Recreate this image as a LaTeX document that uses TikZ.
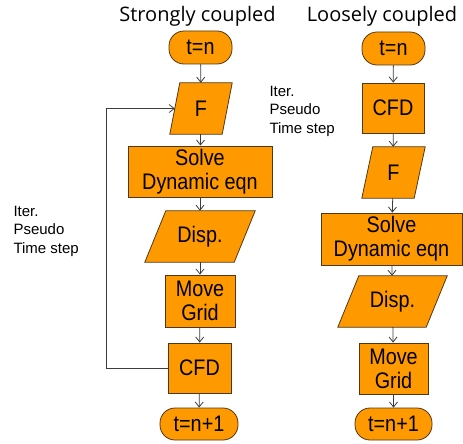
\documentclass[tikz,border=0pt]{standalone}
\usepackage{fontspec}
\setmainfont{Liberation Sans}
\newfontfamily\boxfont[FakeStretch=0.88]{Liberation Sans}
\newfontfamily\titlefont{Open Sans}
\usetikzlibrary{arrows.meta,backgrounds}
\definecolor{boxfill}{RGB}{255,153,0}
\definecolor{boxline}{RGB}{80,55,25}
\definecolor{arrline}{RGB}{60,60,60}
\begin{document}
\begin{tikzpicture}[x=1pt,y=-1pt,
  box/.style={draw=boxline,fill=boxfill,line width=0.8pt},
  rectbox/.style={box,inner sep=0pt,align=center,font=\boxfont\fontsize{22.5}{24}\selectfont},
  term/.style={rectbox,rounded corners=15pt},
  parabox/.style={inner sep=0pt,align=center,font=\boxfont\fontsize{22.5}{24}\selectfont},
  arr/.style={draw=arrline,line width=0.8pt,-{Straight Barb[length=5pt,width=8pt]}},
  side/.style={align=left,anchor=west,font=\fontsize{15}{18.5}\selectfont},
  ttl/.style={font=\titlefont\fontsize{20}{24}\selectfont}]
\useasboundingbox (0,0) rectangle (463,444);
% titles
\node[ttl] (t1) at (197.5,16) {Strongly coupled};
\node[ttl] (t2) at (382,16) {Loosely coupled};
% left column
\node[term,minimum width=63,minimum height=33] (tn1) at (200.5,47.5) {t=n};
\node[parabox,minimum width=62,minimum height=51] (f1) at (201,108.5) {F};
\node[rectbox,minimum width=144,minimum height=51] (s1) at (200,171.5) {Solve\\Dynamic eqn};
\node[parabox,minimum width=110,minimum height=51] (d1) at (200,236.5) {Disp.};
\node[rectbox,minimum width=70,minimum height=52] (m1) at (200,301) {Move\\Grid};
\node[rectbox,minimum width=63,minimum height=50] (c1) at (199.5,368) {CFD};
\node[term,minimum width=78,minimum height=32] (e1) at (199,424) {t=n+1};
% right column
\node[term,minimum width=63,minimum height=33] (tn2) at (393.5,48.5) {t=n};
\node[rectbox,minimum width=62,minimum height=50] (c2) at (393,108) {CFD};
\node[parabox,minimum width=63,minimum height=51] (f2) at (393.5,172.5) {F};
\node[rectbox,minimum width=141,minimum height=52] (s2) at (391.5,239) {Solve\\Dynamic eqn};
\node[parabox,minimum width=109,minimum height=51] (d2) at (392.5,301.5) {Disp.};
\node[rectbox,minimum width=69,minimum height=51] (m2) at (393.5,368.5) {Move\\Grid};
\node[term,minimum width=77,minimum height=32] (e2) at (393.5,424) {t=n+1};
% side texts
\node[side] (it1) at (10,231) {Iter.\\Pseudo\\Time step};
\node[side] (it2) at (266,111) {Iter.\\Pseudo\\Time step};
% parallelograms
\begin{scope}[on background layer]
\foreach \n/\d in {f1/10,d1/21,f2/11,d2/21}
  \filldraw[box] ([xshift=\d]\n.north west) -- (\n.north east) -- ([xshift=-\d]\n.south east) -- (\n.south west) -- cycle;
\end{scope}
% arrows left
\draw[arr] (tn1) -- (f1);
\draw[arr] (f1) -- (s1);
\draw[arr] (s1) -- (d1);
\draw[arr] (d1) -- (m1);
\draw[arr] (m1) -- (c1);
\draw[arr] (c1) -- (e1);
\coordinate (loopx) at (106,0);
\draw[arr] (c1.west) -- (c1.west -| loopx) |- ([xshift=5]f1.west);
% arrows right
\draw[arr] (tn2) -- (c2);
\draw[arr] (c2) -- (f2);
\draw[arr] (f2) -- (s2);
\draw[arr] (s2) -- (d2);
\draw[arr] (d2) -- (m2);
\draw[arr] (m2) -- (e2);
\end{tikzpicture}
\end{document}
